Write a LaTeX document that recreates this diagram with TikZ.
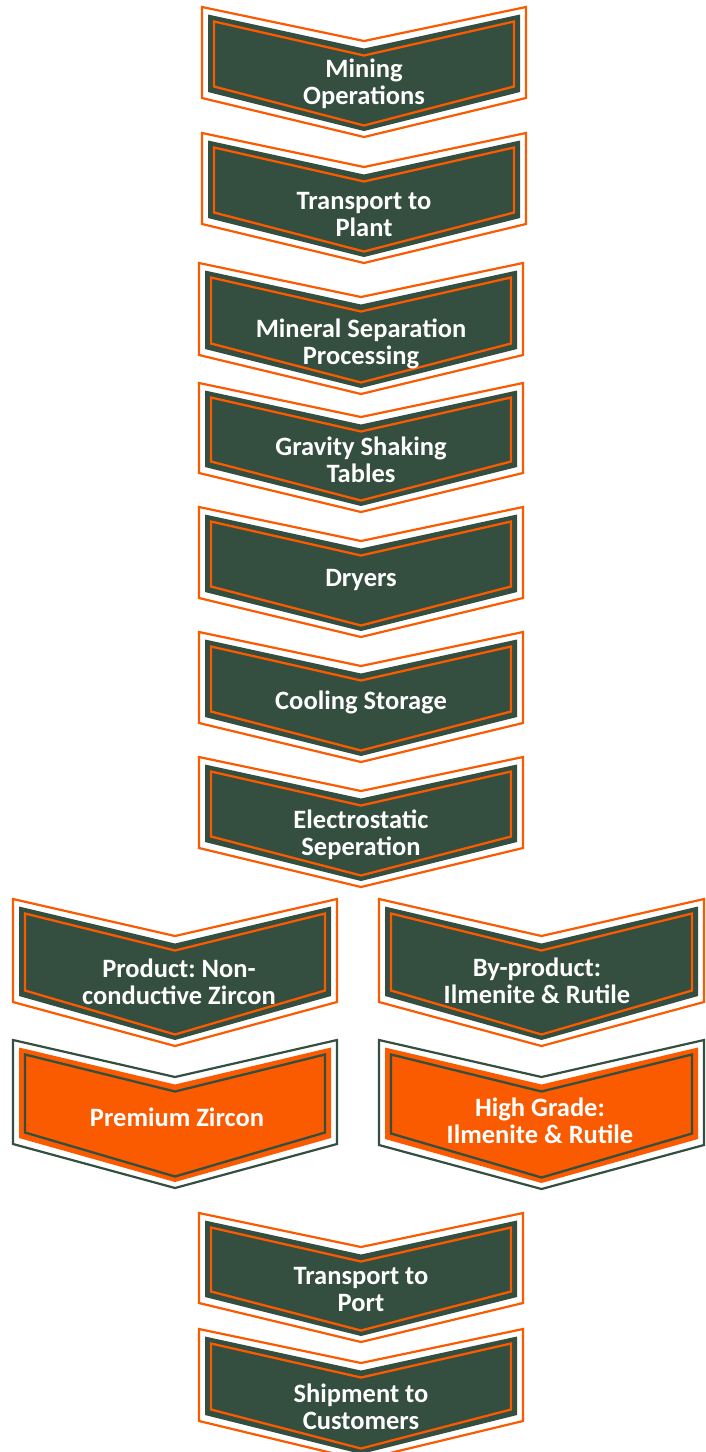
\documentclass[tikz,border=0pt]{standalone}
\usepackage{fontspec}
\setmainfont{Carlito}
\frenchspacing
\definecolor{forest}{HTML}{344E3F}
\definecolor{flame}{HTML}{FA5A00}

% chevron outline: centre x, half width, top corner y, bottom corner y, notch depth, point depth
\newcommand\chevpath[6]{({#1-(#2)},{#3}) -- ({#1},{#3+#5}) -- ({#1+(#2)},{#3}) -- ({#1+(#2)},{#4}) -- ({#1},{#4+#6}) -- ({#1-(#2)},{#4}) -- cycle}
% framed chevron: outer frame, filled body, inset rule
\newcommand\chevbox[8]{%
  \draw[#7, line width=2.2pt, line join=miter] \chevpath{#1}{#2}{#3}{#4}{#5}{#6};
  \fill[#8] \chevpath{#1}{#2-6}{#3+7.5}{#4-6}{#5}{#6};
  \draw[#7, line width=2.3pt, line join=miter] \chevpath{#1}{#2-12}{#3+14.5}{#4-11.5}{#5}{#6};
}

\begin{document}
\begin{tikzpicture}[x=1pt, y=-1pt,
  lbl/.style={text=white, align=center, inner sep=0pt,
    font=\bfseries\fontsize{26.5}{27}\selectfont}]
\useasboundingbox (0,0) rectangle (705,1452);
\fill[white] (0,0) rectangle (705,1452);

% main line
\chevbox{364}{162}{7}{98}{34}{39}{flame}{forest}
\chevbox{364}{162}{133}{224}{34}{39}{flame}{forest}
\chevbox{361}{162}{263}{355}{34}{39}{flame}{forest}
\chevbox{361}{162}{383}{473}{34}{39}{flame}{forest}
\chevbox{361}{162}{507}{598}{34}{39}{flame}{forest}
\chevbox{361}{162}{632}{723}{34}{39}{flame}{forest}
\chevbox{361}{162}{757}{848}{34}{39}{flame}{forest}

% split into product and by-product
\chevbox{175}{162}{899}{1002}{37}{44}{flame}{forest}
\chevbox{541.5}{162.5}{899}{1002}{37}{44}{flame}{forest}
\chevbox{175}{162}{1040}{1144}{37}{44}{forest}{flame}
\chevbox{541.5}{162.5}{1040}{1145}{37}{44}{forest}{flame}

% dispatch
\chevbox{361}{162}{1213}{1303}{34}{39}{flame}{forest}
\chevbox{361}{162}{1329}{1421}{34}{39}{flame}{forest}

% labels
\node[lbl] (mining)   at (364,83.5)   {Mining\\Operations};
\node[lbl] (plant)    at (364,214)    {Transport to\\Plant};
\node[lbl] (mineral)  at (361,343.5)  {Mineral Separation\\Processing};
\node[lbl] (gravity)  at (361,459.5)  {Gravity Shaking\\Tables};
\node[lbl] (dryers)   at (361,580)    {Dryers};
\node[lbl] (cooling)  at (361,702)    {Cooling Storage};
\node[lbl] (electro)  at (361,834.5)  {Electrostatic\\Seperation};
\node[lbl] (product)  at (179,981.5)  {Product: Non-\\conductive Zircon};
\node[lbl] (byprod)   at (537,981)    {By-product:\\Ilmenite \& Rutile};
\node[lbl] (premium)  at (177,1117)   {Premium Zircon};
\node[lbl] (highgrade) at (540,1121)  {High Grade:\\Ilmenite \& Rutile};
\node[lbl] (port)     at (361,1289.5) {Transport to\\Port};
\node[lbl] (shipment) at (361,1406.5) {Shipment to\\Customers};
\end{tikzpicture}
\end{document}
